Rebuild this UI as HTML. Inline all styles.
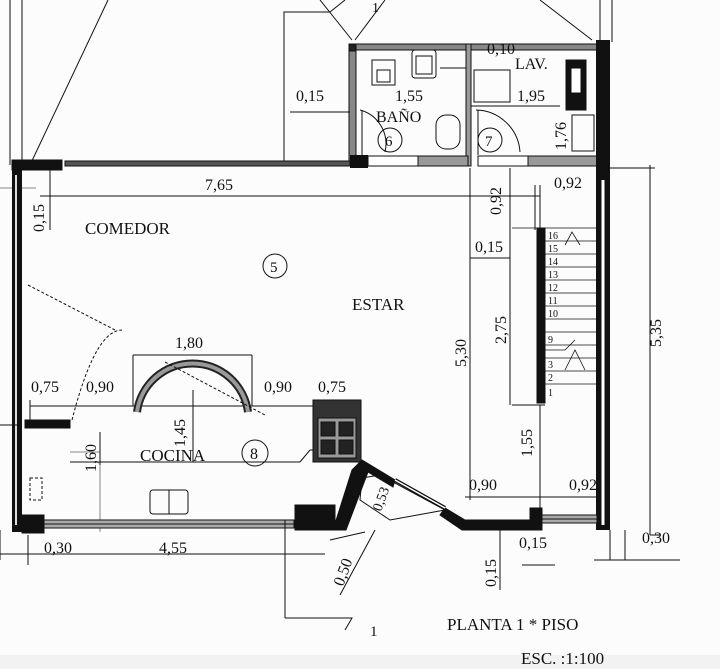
<!DOCTYPE html>
<html><head><style>
html,body{margin:0;padding:0;background:#fbfbfb;}
svg{display:block;}
text{font-family:"Liberation Serif",serif;fill:#111;}
</style></head><body>
<svg width="720" height="669" viewBox="0 0 720 669" xmlns="http://www.w3.org/2000/svg">
<rect width="720" height="669" fill="#fcfcfc"/>
<rect x="0" y="655" width="720" height="14" fill="#f2f2f2"/>
<g stroke="#111" fill="none" stroke-width="1">
<line x1="10" y1="0" x2="10" y2="165"/><line x1="22" y1="0" x2="22" y2="165"/>
<line x1="30" y1="165" x2="108" y2="0"/>
<line x1="0" y1="188" x2="36" y2="188" stroke-width="0.5"/>
<polyline points="284,165 284,12 330,12 345,0"/>
<line x1="320" y1="0" x2="352" y2="40"/><line x1="355" y1="40" x2="385" y2="0"/>
<line x1="540" y1="0" x2="592" y2="40"/>
<line x1="600" y1="0" x2="600" y2="42"/><line x1="612" y1="0" x2="612" y2="42"/>
<rect x="349" y="44" width="254" height="6" fill="#888"/>
<rect x="349" y="44" width="7" height="122" fill="#888"/>
<rect x="349" y="44" width="7" height="7" fill="#222"/>
<rect x="466" y="44" width="5" height="122" fill="#999"/>
<rect x="350" y="155" width="18" height="13" fill="#111" stroke="none"/>
<rect x="368" y="156" width="50" height="10" fill="#fff"/>
<rect x="418" y="156" width="50" height="10" fill="#999"/>
<rect x="478" y="156" width="50" height="10" fill="#fff"/>
<rect x="528" y="156" width="70" height="10" fill="#999"/>
<rect x="372" y="60" width="23" height="25"/><rect x="377" y="70" width="13" height="12"/>
<rect x="412" y="50" width="24" height="28" rx="3"/><rect x="416" y="56" width="16" height="18"/>
<line x1="440" y1="68" x2="466" y2="68"/>
<rect x="474" y="70" width="36" height="32"/>
<line x1="471" y1="106" x2="560" y2="106"/>
<line x1="290" y1="112" x2="350" y2="112"/>
<path d="M385,152 A35,35 0 0 0 360,110" /><line x1="362" y1="110" x2="362" y2="155"/>
<rect x="436" y="115" width="24" height="34" rx="10"/>
<path d="M520,152 A45,45 0 0 0 476,110"/><line x1="478" y1="110" x2="478" y2="155"/>
<circle cx="390" cy="140" r="12"/><circle cx="490" cy="140" r="12"/>
<rect x="566" y="60" width="20" height="50" fill="#111"/>
<rect x="571" y="68" width="10" height="25" fill="#fff"/>
<rect x="572" y="115" width="22" height="36"/>
<rect x="596" y="40" width="14" height="490" fill="#111" stroke="none"/>
<line x1="603" y1="180" x2="603" y2="525" stroke="#fff" stroke-width="3"/>
<rect x="12" y="160" width="50" height="10" fill="#111"/>
<rect x="65" y="161" width="285" height="5" fill="#555"/>
<rect x="12" y="160" width="10" height="372" fill="#111" stroke="none"/>
<line x1="16" y1="175" x2="16" y2="525" stroke="#ddd" stroke-width="2"/>
<line x1="40" y1="196" x2="540" y2="196"/>
<line x1="50" y1="168" x2="50" y2="230"/>
<line x1="470" y1="168" x2="470" y2="500"/>
<line x1="510" y1="168" x2="510" y2="405"/>
<line x1="600" y1="168" x2="655" y2="168"/>
<line x1="650" y1="165" x2="650" y2="535"/>
<line x1="470" y1="258" x2="510" y2="258"/>
<line x1="535" y1="185" x2="535" y2="230"/><line x1="540" y1="185" x2="540" y2="230"/>
<rect x="537" y="228" width="8" height="175" fill="#111"/>
<line x1="512" y1="405" x2="545" y2="405"/>
<g stroke-width="0.8">
<line x1="512" y1="228" x2="600" y2="228"/>
<line x1="545" y1="241" x2="600" y2="241"/><line x1="545" y1="254" x2="600" y2="254"/>
<line x1="545" y1="267" x2="600" y2="267"/><line x1="545" y1="280" x2="600" y2="280"/>
<line x1="545" y1="293" x2="600" y2="293"/><line x1="545" y1="306" x2="600" y2="306"/>
<line x1="545" y1="319" x2="600" y2="319"/><line x1="545" y1="332" x2="600" y2="332"/>
<line x1="545" y1="345" x2="600" y2="345"/><line x1="545" y1="358" x2="600" y2="358"/>
<line x1="545" y1="371" x2="600" y2="371"/><line x1="545" y1="384" x2="600" y2="384"/>
<polyline points="545,350 565,350 575,340"/><polyline points="565,370 575,350 585,370"/>
<polyline points="565,245 572,232 580,245"/>
</g>
<line x1="540" y1="405" x2="540" y2="515"/>
<line x1="465" y1="497" x2="600" y2="497"/>
<line x1="30" y1="400" x2="30" y2="420"/>
<line x1="30" y1="406" x2="360" y2="406"/>
<line x1="133" y1="355" x2="252" y2="355"/>
<line x1="133" y1="355" x2="133" y2="406"/><line x1="252" y1="355" x2="252" y2="406"/>
<line x1="193" y1="390" x2="193" y2="462"/>
<line x1="100" y1="432" x2="100" y2="465"/><line x1="70" y1="452" x2="100" y2="452" stroke-width="0.5"/>
<line x1="100" y1="452" x2="100" y2="532" stroke-width="0.5"/>
<path d="M137,412 A56,56 0 0 1 248,412" stroke="#222" stroke-width="8"/>
<path d="M137,412 A56,56 0 0 1 248,412" stroke="#999" stroke-width="4"/>
<path d="M72,420 Q95,330 122,330" stroke-dasharray="3,2"/>
<line x1="165" y1="362" x2="265" y2="415" stroke-dasharray="3,2"/>
<line x1="28" y1="285" x2="115" y2="330" stroke-dasharray="3,2"/>
<rect x="25" y="420" width="45" height="8" fill="#111"/>
<line x1="0" y1="425" x2="20" y2="425"/>
<rect x="30" y="478" width="12" height="22" stroke-dasharray="3,2"/>
<rect x="22" y="515" width="22" height="18" fill="#111"/>
<line x1="70" y1="462" x2="300" y2="462"/>
<polyline points="300,462 310,450 315,450"/>
<rect x="150" y="490" width="38" height="24" rx="3"/><line x1="169" y1="490" x2="169" y2="514"/>
<rect x="313" y="400" width="48" height="62" fill="#333"/>
<rect x="318" y="418" width="38" height="40" fill="#999"/>
<g fill="#222"><rect x="321" y="422" width="14" height="14"/><rect x="339" y="422" width="14" height="14"/><rect x="321" y="440" width="14" height="14"/><rect x="339" y="440" width="14" height="14"/></g>
<rect x="44" y="520" width="250" height="8" fill="#aaa"/>
<line x1="44" y1="524" x2="294" y2="524"/>
<rect x="295" y="505" width="40" height="25" fill="#111"/>
<polygon points="333,530 352,470 362,460 395,480 393,487 368,472 346,530" fill="#111"/>
<polygon points="445,508 465,520 540,520 540,530 462,530 440,515" fill="#111"/>
<line x1="395" y1="480" x2="445" y2="508" stroke-width="4"/>
<line x1="395" y1="480" x2="445" y2="508" stroke="#fff" stroke-width="1.5"/>
<path d="M362,478 L380,475 L445,510 L390,520 L360,500 Z"/>
<rect x="530" y="508" width="12" height="22" fill="#111"/>
<rect x="542" y="515" width="55" height="8" fill="#aaa"/>
<line x1="542" y1="519" x2="597" y2="519"/>
<line x1="0" y1="530" x2="0" y2="560"/>
<line x1="28" y1="535" x2="28" y2="565"/>
<line x1="0" y1="554" x2="325" y2="554"/>
<line x1="285" y1="520" x2="285" y2="618"/>
<polyline points="285,618 352,618 345,630"/>
<line x1="330" y1="540" x2="365" y2="532"/>
<line x1="340" y1="595" x2="375" y2="530" />
<line x1="500" y1="530" x2="500" y2="590"/>
<line x1="522" y1="565" x2="555" y2="565"/>
<line x1="594" y1="560" x2="680" y2="560"/>
<line x1="610" y1="530" x2="610" y2="560"/><line x1="625" y1="530" x2="625" y2="560"/>
<line x1="650" y1="535" x2="660" y2="535"/>
</g>
<g font-size="10">
<text x="548" y="239">16</text><text x="548" y="252">15</text><text x="548" y="265">14</text>
<text x="548" y="278">13</text><text x="548" y="291">12</text><text x="548" y="304">11</text>
<text x="548" y="317">10</text><text x="548" y="343">9</text><text x="548" y="368">3</text>
<text x="548" y="381">2</text><text x="548" y="396">1</text>
</g>
<g font-size="16">
<text x="372" y="12" font-size="14">1</text>
<text x="487" y="54">0,10</text>
<text x="515" y="69">LAV.</text>
<text x="395" y="101">1,55</text>
<text x="517" y="101">1,95</text>
<text x="296" y="101">0,15</text>
<text x="376" y="122">BAÑO</text>
<text x="385" y="146" font-size="15">6</text>
<text x="485" y="146" font-size="15">7</text>
<text transform="translate(566,150) rotate(-90)">1,76</text>
<text x="205" y="190">7,65</text>
<text x="554" y="188">0,92</text>
<text transform="translate(501,215) rotate(-90)">0,92</text>
<text transform="translate(44,232) rotate(-90)">0,15</text>
<text x="85" y="234" font-size="17">COMEDOR</text>
<text x="475" y="252">0,15</text>
<circle cx="275" cy="266" r="12" fill="none" stroke="#111"/>
<text x="270" y="272" font-size="15">5</text>
<text x="352" y="310" font-size="17">ESTAR</text>
<text transform="translate(506,344) rotate(-90)">2,75</text>
<text transform="translate(466,367) rotate(-90)">5,30</text>
<text transform="translate(661,347) rotate(-90)">5,35</text>
<text x="175" y="348">1,80</text>
<text x="31" y="392">0,75</text>
<text x="86" y="392">0,90</text>
<text x="264" y="392">0,90</text>
<text x="318" y="392">0,75</text>
<text transform="translate(185,447) rotate(-90)">1,45</text>
<text transform="translate(96,472) rotate(-90)">1,60</text>
<text x="140" y="461" font-size="17">COCINA</text>
<circle cx="255" cy="453" r="13" fill="none" stroke="#111"/>
<text x="250" y="459">8</text>
<text transform="translate(532,457) rotate(-90)">1,55</text>
<text x="469" y="490">0,90</text>
<text x="569" y="490">0,92</text>
<text transform="translate(381,512) rotate(-70)" font-size="14">0,53</text>
<text x="44" y="553">0,30</text>
<text x="159" y="553">4,55</text>
<text x="519" y="548">0,15</text>
<text x="642" y="543">0,30</text>
<text transform="translate(343,587) rotate(-70)">0,50</text>
<text transform="translate(496,587) rotate(-90)">0,15</text>
<text x="370" y="636" font-size="15">1</text>
<text x="447" y="630" font-size="17">PLANTA 1 * PISO</text>
<text x="521" y="664" font-size="17">ESC. :1:100</text>
</g>
</svg>
</body></html>
